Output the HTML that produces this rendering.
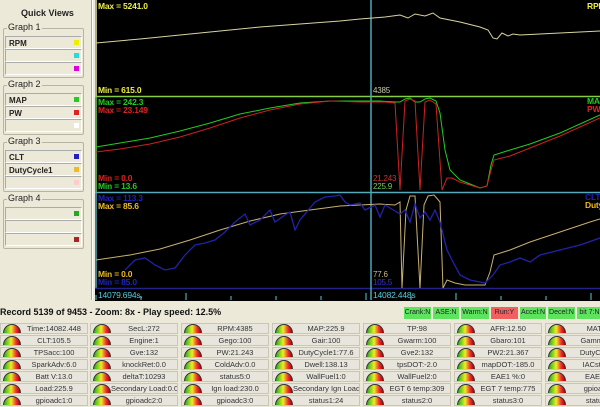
<!DOCTYPE html>
<html><head><style>
*{margin:0;padding:0;box-sizing:border-box}
body{width:600px;height:407px;overflow:hidden;background:#ece9d8;font-family:"Liberation Sans",sans-serif;position:relative}
.a{position:absolute}
.gb{position:absolute;left:3px;width:81px;border:1px solid #b8b4a4;border-radius:2px}
.gb .t{position:absolute;left:3px;top:-7px;background:#ece9d8;font-size:9px;color:#222;padding:0 1px}
.row{position:absolute;left:1px;width:77px;height:13px;border:1px solid #aaa;border-right-color:#fff;border-bottom-color:#fff;font-size:8px;font-weight:bold;padding:2px 0 0 3px;color:#222}
.sq{position:absolute;right:2px;top:3px;width:5px;height:5px}
.cell{position:absolute;width:88px;height:11px;background:#e8e6dc;border:1px solid #c9c6b8;font-size:7.5px;color:#333;white-space:nowrap;overflow:hidden}
.cell .g{position:absolute;left:2px;top:0px;width:18px;height:10px;border-radius:9px 9px 0 0;background:linear-gradient(90deg,#2a2 0%,#ee2 45%,#e33 75%,#a00 100%);border:1px solid #333;border-bottom:none}
.cell span{position:absolute;left:20px;right:0;text-align:center;top:0px}
.ind{position:absolute;top:307px;height:12px;background:#5ee35e;font-size:7px;text-align:center;line-height:12px;color:#222;white-space:nowrap;overflow:hidden}
svg text{font-family:"Liberation Sans",sans-serif;font-size:8.5px;font-weight:bold;letter-spacing:-0.2px}
</style></head><body>
<div class="a" style="left:0;top:0;width:92px;height:300px;background:#ece9d8"></div>
<div class="a" style="left:21px;top:8px;font-size:9px;font-weight:bold;color:#222">Quick Views</div>
<div class="gb" style="top:28px;height:50px"><div class="t">Graph 1</div>
<div class="row" style="top:7px">RPM<div class="sq" style="background:#ee0"></div></div>
<div class="row" style="top:20px"><div class="sq" style="background:#2dd"></div></div>
<div class="row" style="top:33px"><div class="sq" style="background:#d0d"></div></div></div>
<div class="gb" style="top:85px;height:50px"><div class="t">Graph 2</div>
<div class="row" style="top:7px">MAP<div class="sq" style="background:#2c2"></div></div>
<div class="row" style="top:20px">PW<div class="sq" style="background:#d22"></div></div>
<div class="row" style="top:33px"><div class="sq" style="background:#fff"></div></div></div>
<div class="gb" style="top:142px;height:50px"><div class="t">Graph 3</div>
<div class="row" style="top:7px">CLT<div class="sq" style="background:#22b"></div></div>
<div class="row" style="top:20px">DutyCycle1<div class="sq" style="background:#eb2"></div></div>
<div class="row" style="top:33px"><div class="sq" style="background:#fcc"></div></div></div>
<div class="gb" style="top:199px;height:50px"><div class="t">Graph 4</div>
<div class="row" style="top:7px"><div class="sq" style="background:#2a2"></div></div>
<div class="row" style="top:20px"></div>
<div class="row" style="top:33px"><div class="sq" style="background:#a22"></div></div></div>
<div class="a" style="left:91px;top:0;width:2px;height:300px;background:#fff;border-left:1px solid #aaa"></div>

<svg class="a" style="left:95px;top:0" width="505" height="301" viewBox="95 0 505 301">
<rect x="95" y="0" width="505" height="301" fill="#000"/>
<line x1="96" y1="0" x2="96" y2="96" stroke="#e8e8a0" stroke-width="1.5"/>
<line x1="96" y1="96" x2="96" y2="192" stroke="#7c5" stroke-width="1.5"/>
<line x1="96" y1="192" x2="96" y2="288" stroke="#5ab" stroke-width="1.5"/>
<line x1="95" y1="96.5" x2="600" y2="96.5" stroke="#8c4" stroke-width="1.5"/>
<line x1="95" y1="192.5" x2="600" y2="192.5" stroke="#5ab" stroke-width="1.5"/>
<line x1="95" y1="288.5" x2="600" y2="288.5" stroke="#228" stroke-width="1.5"/>
<line x1="371" y1="0" x2="371" y2="300" stroke="#4ab" stroke-width="1.5"/>
<polyline fill="none" stroke="#d8d4a0" stroke-width="1" points="96,43 140,39 180,35 220,31 260,27 300,24 340,21 360,19 385,17 400,15 408,18 415,14 425,16 433,13 440,18 460,22 480,27 488,30 493,38 497,39 502,33 508,36 513,34 520,35 540,34 560,33 580,32 600,31"/>
<polyline fill="none" stroke="#2c2" stroke-width="1" points="96,147 120,143 150,138 180,131 210,123 240,114 270,108 300,103 330,101 360,101 380,101 395,102 400,102 405,99 410,98 415,102 420,102 425,99 430,98 436,101 440,113 445,150 450,170 460,180 470,184 480,188 487,186 491,165 494,155 510,150 530,144 560,133 580,124 600,115"/>
<polyline fill="none" stroke="#c22" stroke-width="1" points="96,152 120,149 150,144 180,137 210,128 240,118 270,110 300,104 330,101 360,102 385,102 395,103 400,190 405,101 410,99 415,101 420,190 425,102 430,100 436,104 442,190 447,178 452,178 460,182 470,185 480,188 487,186 491,170 494,160 510,156 530,148 560,136 580,127 600,118"/>
<polyline fill="none" stroke="#c8b070" stroke-width="1" points="96,260 130,255 160,249 190,240 220,230 250,221 280,214 310,210 340,206 360,205 380,204 395,205 400,202 402,288 406,210 410,196 415,196 420,288 424,205 428,196 434,195 440,202 443,288 447,280 455,283 465,285 485,285 490,272 494,255 510,250 530,242 560,232 590,222 600,219"/>
<polyline fill="none" stroke="#22a" stroke-width="1.3" points="125,270 135,260 145,258 155,265 165,270 175,268 185,255 195,245 205,243 215,240 225,232 235,222 245,214 250,225 260,220 265,215 270,210 275,222 285,215 290,212 295,230 300,220 310,208 315,202 325,197 335,196 340,195 345,202 350,205 360,203 365,210 375,205 380,217 385,205 390,208 400,214 405,210 410,222 415,204 420,218 425,212 430,220 435,210 440,222 447,250 452,260 460,275 470,280 485,283 493,275 500,265 510,262 520,258 530,262 540,255 560,250 580,245 600,238"/>
<text x="98" y="9" fill="#ee4">Max = 5241.0</text>
<text x="98" y="93" fill="#ee4">Min = 615.0</text>
<text x="587" y="9" fill="#ee4">RPM</text>
<text x="373" y="93" fill="#cca" style="font-weight:normal;font-size:8px">4385</text>
<text x="98" y="105" fill="#2c2">Max = 242.3</text>
<text x="98" y="113" fill="#d22">Max = 23.149</text>
<text x="98" y="181" fill="#d22">Min = 0.0</text>
<text x="98" y="189" fill="#2c2">Min = 13.6</text>
<text x="587" y="104" fill="#2c2">MAP</text>
<text x="587" y="112" fill="#d22">PW</text>
<text x="373" y="181" fill="#c33" style="font-weight:normal;font-size:8px">21.243</text>
<text x="373" y="189" fill="#7c5" style="font-weight:normal;font-size:8px">225.9</text>
<text x="98" y="201" fill="#22b">Max = 113.3</text>
<text x="98" y="209" fill="#eb2">Max = 85.6</text>
<text x="98" y="277" fill="#eb2">Min = 0.0</text>
<text x="98" y="285" fill="#22b">Min = 85.0</text>
<text x="585" y="200" fill="#22b">CLT</text>
<text x="585" y="208" fill="#eb2">Duty</text>
<text x="373" y="277" fill="#cb8" style="font-weight:normal;font-size:8px">77.6</text>
<text x="373" y="285" fill="#33c" style="font-weight:normal;font-size:8px">105.5</text>
<text x="98" y="298" fill="#5cd" style="font-weight:normal">14079.694s.</text>
<text x="373" y="298" fill="#5cd" style="font-weight:normal">14082.448s</text>
<g stroke="#5cd" stroke-width="1">
<line x1="96" y1="295" x2="96" y2="300"/><line x1="141" y1="296" x2="141" y2="300"/><line x1="186" y1="293" x2="186" y2="300"/><line x1="231" y1="296" x2="231" y2="300"/><line x1="276" y1="296" x2="276" y2="300"/><line x1="321" y1="296" x2="321" y2="300"/><line x1="366" y1="293" x2="366" y2="300"/><line x1="411" y1="296" x2="411" y2="300"/><line x1="456" y1="293" x2="456" y2="300"/><line x1="501" y1="296" x2="501" y2="300"/><line x1="546" y1="296" x2="546" y2="300"/><line x1="591" y1="293" x2="591" y2="300"/>
</g>
</svg>

<div class="a" style="left:0;top:307px;font-size:9px;font-weight:bold;color:#111">Record 5139 of 9453 - Zoom: 8x - Play speed: 12.5%</div>
<div class="ind" style="left:404px;width:27px">Crank:N</div>
<div class="ind" style="left:433px;width:26px">ASE:N</div>
<div class="ind" style="left:461px;width:28px">Warm:N</div>
<div class="ind" style="left:491px;width:27px;background:#f06060">Run:Y</div>
<div class="ind" style="left:520px;width:26px">Accel:N</div>
<div class="ind" style="left:548px;width:27px">Decel:N</div>
<div class="ind" style="left:577px;width:25px">bit 7:N</div>

<div class="cell" style="left:0px;top:323px"><div class="g"></div><span>Time:14082.448</span></div>
<div class="cell" style="left:90px;top:323px"><div class="g"></div><span>SecL:272</span></div>
<div class="cell" style="left:181px;top:323px"><div class="g"></div><span>RPM:4385</span></div>
<div class="cell" style="left:272px;top:323px"><div class="g"></div><span>MAP:225.9</span></div>
<div class="cell" style="left:363px;top:323px"><div class="g"></div><span>TP:98</span></div>
<div class="cell" style="left:454px;top:323px"><div class="g"></div><span>AFR:12.50</span></div>
<div class="cell" style="left:545px;top:323px"><div class="g"></div><span>MAT:19</span></div>
<div class="cell" style="left:0px;top:335px"><div class="g"></div><span>CLT:105.5</span></div>
<div class="cell" style="left:90px;top:335px"><div class="g"></div><span>Engine:1</span></div>
<div class="cell" style="left:181px;top:335px"><div class="g"></div><span>Gego:100</span></div>
<div class="cell" style="left:272px;top:335px"><div class="g"></div><span>Gair:100</span></div>
<div class="cell" style="left:363px;top:335px"><div class="g"></div><span>Gwarm:100</span></div>
<div class="cell" style="left:454px;top:335px"><div class="g"></div><span>Gbaro:101</span></div>
<div class="cell" style="left:545px;top:335px"><div class="g"></div><span>Gammae:1</span></div>
<div class="cell" style="left:0px;top:347px"><div class="g"></div><span>TPSacc:100</span></div>
<div class="cell" style="left:90px;top:347px"><div class="g"></div><span>Gve:132</span></div>
<div class="cell" style="left:181px;top:347px"><div class="g"></div><span>PW:21.243</span></div>
<div class="cell" style="left:272px;top:347px"><div class="g"></div><span>DutyCycle1:77.6</span></div>
<div class="cell" style="left:363px;top:347px"><div class="g"></div><span>Gve2:132</span></div>
<div class="cell" style="left:454px;top:347px"><div class="g"></div><span>PW2:21.367</span></div>
<div class="cell" style="left:545px;top:347px"><div class="g"></div><span>DutyCycle2</span></div>
<div class="cell" style="left:0px;top:359px"><div class="g"></div><span>SparkAdv:6.0</span></div>
<div class="cell" style="left:90px;top:359px"><div class="g"></div><span>knockRet:0.0</span></div>
<div class="cell" style="left:181px;top:359px"><div class="g"></div><span>ColdAdv:0.0</span></div>
<div class="cell" style="left:272px;top:359px"><div class="g"></div><span>Dwell:138.13</span></div>
<div class="cell" style="left:363px;top:359px"><div class="g"></div><span>tpsDOT:-2.0</span></div>
<div class="cell" style="left:454px;top:359px"><div class="g"></div><span>mapDOT:-185.0</span></div>
<div class="cell" style="left:545px;top:359px"><div class="g"></div><span>IACstep:1</span></div>
<div class="cell" style="left:0px;top:371px"><div class="g"></div><span>Batt V:13.0</span></div>
<div class="cell" style="left:90px;top:371px"><div class="g"></div><span>deltaT:10293</span></div>
<div class="cell" style="left:181px;top:371px"><div class="g"></div><span>status5:0</span></div>
<div class="cell" style="left:272px;top:371px"><div class="g"></div><span>WallFuel1:0</span></div>
<div class="cell" style="left:363px;top:371px"><div class="g"></div><span>WallFuel2:0</span></div>
<div class="cell" style="left:454px;top:371px"><div class="g"></div><span>EAE1 %:0</span></div>
<div class="cell" style="left:545px;top:371px"><div class="g"></div><span>EAE2 %</span></div>
<div class="cell" style="left:0px;top:383px"><div class="g"></div><span>Load:225.9</span></div>
<div class="cell" style="left:90px;top:383px"><div class="g"></div><span>Secondary Load:0.0</span></div>
<div class="cell" style="left:181px;top:383px"><div class="g"></div><span>Ign load:230.0</span></div>
<div class="cell" style="left:272px;top:383px"><div class="g"></div><span>Secondary Ign Load:0.</span></div>
<div class="cell" style="left:363px;top:383px"><div class="g"></div><span>EGT 6 temp:309</span></div>
<div class="cell" style="left:454px;top:383px"><div class="g"></div><span>EGT 7 temp:775</span></div>
<div class="cell" style="left:545px;top:383px"><div class="g"></div><span>gpioadc0</span></div>
<div class="cell" style="left:0px;top:395px"><div class="g"></div><span>gpioadc1:0</span></div>
<div class="cell" style="left:90px;top:395px"><div class="g"></div><span>gpioadc2:0</span></div>
<div class="cell" style="left:181px;top:395px"><div class="g"></div><span>gpioadc3:0</span></div>
<div class="cell" style="left:272px;top:395px"><div class="g"></div><span>status1:24</span></div>
<div class="cell" style="left:363px;top:395px"><div class="g"></div><span>status2:0</span></div>
<div class="cell" style="left:454px;top:395px"><div class="g"></div><span>status3:0</span></div>
<div class="cell" style="left:545px;top:395px"><div class="g"></div><span>status4:</span></div>
</body></html>
